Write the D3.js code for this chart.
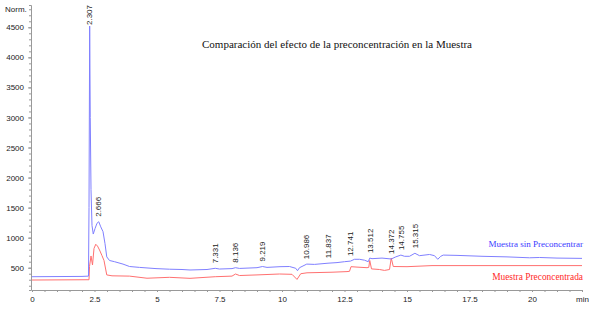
<!DOCTYPE html>
<html>
<head>
<meta charset="utf-8">
<script src="https://cdn.jsdelivr.net/npm/d3@7"></script>
<style>
  body { margin: 0; background: #fff; }
  svg { display: block; }
  .axis text { font-family: "Liberation Sans", Arial, sans-serif; font-size: 8px; fill: #222; }
  .axis path, .axis line { stroke: #999; }
</style>
</head>
<body>
<svg id="chart" width="589" height="311"></svg>
<script>
// retention time (min) / signal (Norm.)
const blueTime = [0, 2.0, 2.26, 2.28, 2.307, 2.33, 2.36, 2.40, 2.45, 2.52, 2.60, 2.67, 2.75, 2.84, 2.92, 2.99,
  3.1, 3.3, 3.64, 3.9, 4.3, 4.96, 5.5, 6.0, 6.32, 7.0, 7.33, 7.5, 8.0, 8.14, 8.3, 9.0, 9.22, 9.4, 9.92,
  10.3, 10.55, 10.62, 10.7, 10.99, 11.3, 11.84, 12.2, 12.5, 12.74, 12.9, 13.1, 13.3, 13.45, 13.51, 13.6,
  14.0, 14.37, 14.55, 14.755, 14.9, 15.1, 15.315, 15.5, 15.9, 16.1, 16.23, 16.35, 16.45, 17, 18, 19, 19.9,
  20.3, 21, 22];
const blueValue = [350, 355, 360, 1500, 4520, 3000, 1800, 1200, 1060, 1150, 1240, 1265, 1180, 1100, 900, 680,
  620, 600, 560, 520, 505, 485, 475, 470, 462, 470, 490, 478, 485, 500, 488, 500, 520, 505, 517,
  520, 490, 450, 500, 560, 555, 575, 585, 600, 610, 640, 640, 625, 600, 660, 650,
  660, 645, 680, 710, 690, 690, 740, 700, 720, 700, 640, 690, 710, 705, 690, 680, 665,
  670, 660, 655];

const redTime = [0, 2.28, 2.30, 2.36, 2.42, 2.48, 2.55, 2.62, 2.70, 2.80, 2.88, 2.99, 3.2, 3.9, 4.6, 5.5,
  6.32, 7.33, 8.0, 8.14, 8.3, 9.0, 9.9, 10.4, 10.6, 10.75, 11.0, 12.0, 12.6, 12.70, 12.76, 13.0, 13.4,
  13.47, 13.51, 13.58, 13.9, 14.1, 14.3, 14.37, 14.45, 15, 16, 22];
const redValue = [295, 300, 520, 695, 545, 820, 890, 860, 795, 700, 620, 380, 365, 360, 325, 340,
  323, 350, 360, 395, 370, 380, 395, 390, 305, 400, 415, 425, 435, 440, 517, 510, 500,
  505, 620, 480, 470, 455, 470, 660, 520, 517, 535, 535];

const peakLabels = ["2.307", "2.666", "7.331", "8.136", "9.219", "10.986", "11.837", "12.741",
  "13.512", "14.372", "14.755", "15.315"];

const xTicks = [0, 2.5, 5, 7.5, 10, 12.5, 15, 17.5, 20];
const yTicks = [500, 1000, 1500, 2000, 2500, 3000, 3500, 4000, 4500];

const title = "Comparación del efecto de la preconcentración en la Muestra";
const blueName = "Muestra sin Preconcentrar";
const redName = "Muestra Preconcentrada";

const svg = d3.select("#chart");
const x = d3.scaleLinear().domain([0, 22]).range([32, 582]);
const y = d3.scaleLinear().domain([129, 4871]).range([290, 5]);

// axes
const gx = svg.append("g").attr("class", "axis").attr("transform", "translate(0,290)");
gx.call(d3.axisBottom(x).tickValues(d3.range(0, 22.01, 0.5)).tickSize(2).tickFormat(""));
gx.append("g").call(d3.axisBottom(x).tickValues(xTicks).tickSize(0).tickPadding(6)
  .tickFormat(d3.format("")))
  .call(g => g.select(".domain").remove());

const gy = svg.append("g").attr("class", "axis").attr("transform", "translate(31,0)");
gy.call(d3.axisLeft(y).tickValues(d3.range(200, 4801, 100)).tickSize(2).tickFormat(""));
gy.append("g").call(d3.axisLeft(y).tickValues(yTicks).tickSize(3).tickPadding(4).tickFormat(d3.format("")))
  .call(g => g.select(".domain").remove());

svg.append("text").attr("x", 5).attr("y", 12)
  .style("font-family", "Liberation Sans, Arial, sans-serif").style("font-size", "8px").attr("fill", "#222")
  .text("Norm.");
svg.append("text").attr("x", 576).attr("y", 302)
  .style("font-family", "Liberation Sans, Arial, sans-serif").style("font-size", "8px").attr("fill", "#222")
  .text("min");

// traces
const line = d3.line().x(d => x(d[0])).y(d => y(d[1]));
const blue = d3.zip(blueTime, blueValue);
const red = d3.zip(redTime, redValue);

svg.append("path").datum(red).attr("d", line)
  .attr("fill", "none").attr("stroke", "#ff7070").attr("stroke-width", 1);
svg.append("path").datum(blue).attr("d", line)
  .attr("fill", "none").attr("stroke", "#8080ff").attr("stroke-width", 1);

// peak labels sit just above the blue trace
const blueAt = t => {
  const i = d3.bisectLeft(blueTime, t);
  if (i <= 0) return blueValue[0];
  const t0 = blueTime[i - 1], t1 = blueTime[i];
  return blueValue[i - 1] + (blueValue[i] - blueValue[i - 1]) * (t - t0) / (t1 - t0);
};
svg.append("g").selectAll("text")
  .data(peakLabels)
  .join("text")
  .attr("transform", d => {
    const t = +d;
    const ty = Math.max(y(blueAt(t)) - 5, 25);
    return `translate(${x(t)},${ty}) rotate(-90)`;
  })
  .attr("dy", "0.35em")
  .style("font-family", "Liberation Sans, Arial, sans-serif")
  .style("font-size", "8px")
  .attr("fill", "#222")
  .text(d => d);

// title and legend
svg.append("text").attr("x", 337).attr("y", 48).attr("text-anchor", "middle")
  .style("font-family", "Liberation Serif, Times New Roman, serif").style("font-size", "11px")
  .attr("fill", "#111").text(title);
svg.append("text").attr("x", 583).attr("y", 247).attr("text-anchor", "end")
  .style("font-family", "Liberation Serif, Times New Roman, serif").style("font-size", "9px")
  .attr("fill", "#3a3aff").text(blueName);
svg.append("text").attr("x", 583).attr("y", 280).attr("text-anchor", "end")
  .style("font-family", "Liberation Serif, Times New Roman, serif").style("font-size", "9.4px")
  .attr("fill", "#ff2a2a").text(redName);
</script>
</body>
</html>
